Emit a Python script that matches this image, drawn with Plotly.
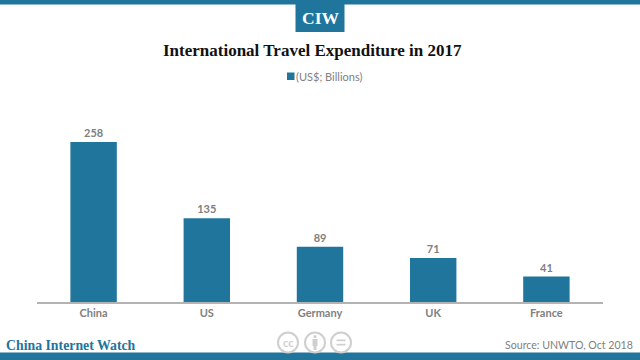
import plotly.graph_objects as go

categories = ["China", "US", "Germany", "UK", "France"]
values = [258, 135, 89, 71, 41]
series_name = "(US$; Billions)"
title = "International Travel Expenditure in 2017"
source = "Source: UNWTO, Oct 2018"
brand = "China Internet Watch"
logo = "CIW"

W, H = 640, 360
L, R, T, B = 37, 37, 116, 58
BLUE = "#20759d"
GREY = "#808080"
ICON = "#cfcfcf"
SERIF = "Liberation Serif"
SANS = "Lato"

def px(x):
    return (x - L) / (W - L - R)

def py(y):
    return (H - B - y) / (H - T - B)

fig = go.Figure(go.Bar(
    x=categories, y=values, width=0.41, name=series_name,
    marker=dict(color=BLUE, line=dict(width=0)),
    text=values, textposition="outside", cliponaxis=False,
    textfont=dict(family=SANS, size=11, color=GREY, weight="bold"),
    showlegend=False,
))

def rect(x0, y0, x1, y1, color):
    return dict(type="rect", xref="paper", yref="paper", layer="above",
                x0=px(x0), x1=px(x1), y0=py(y0), y1=py(y1),
                fillcolor=color, line=dict(width=0))

def circle(cx, cy, r, fill="white", lw=2):
    return dict(type="circle", xref="paper", yref="paper", layer="above",
                x0=px(cx - r), x1=px(cx + r), y0=py(cy - r), y1=py(cy + r),
                fillcolor=fill, line=dict(color=ICON, width=lw))

def note(text, x, y, size, color, family=SANS, anchor="center", bold=False):
    return dict(text=f"<b>{text}</b>" if bold else text, x=px(x), y=py(y),
                xref="paper", yref="paper", xanchor=anchor, yanchor="middle",
                showarrow=False, borderpad=0, borderwidth=0,
                font=dict(family=family, size=size, color=color))

shapes = [
    rect(0, 0, 640, 4.5, BLUE),
    rect(0, 352.5, 640, 360, BLUE),
    rect(295.5, 4, 344.5, 32, BLUE),
    rect(287, 72.5, 294.5, 80, BLUE),
    circle(288, 342.5, 10), circle(315, 342.5, 10), circle(341, 342.5, 10),
    circle(315, 336.5, 1.6, ICON, 0),
    rect(312.5, 339, 317.5, 346, ICON),
    rect(313.5, 346, 316.5, 350, ICON),
    rect(336.5, 339.5, 345.5, 341.2, ICON),
    rect(336.5, 343.8, 345.5, 345.5, ICON),
]
annotations = [
    note(logo, 320.5, 18, 17.5, "white", SERIF, bold=True),
    note(title, 312.5, 50, 17, "#111111", SERIF, bold=True),
    note(series_name, 296, 76.5, 11, GREY, SANS, "left"),
    note(brand, 6, 345, 13.8, BLUE, SERIF, "left", bold=True),
    note(source, 633, 344.5, 10.6, GREY, SANS, "right"),
    note("cc", 288, 342, 11, ICON, SANS, bold=True),
]

fig.update_layout(
    width=W, height=H, autosize=False,
    margin=dict(l=L, r=R, t=T, b=B, pad=0),
    paper_bgcolor="white", plot_bgcolor="white",
    shapes=shapes, annotations=annotations,
    xaxis=dict(showline=True, linecolor="#b3b3b3", linewidth=1.5, ticks="",
               showgrid=False, tickfont=dict(family=SANS, size=11, color=GREY, weight="bold")),
    yaxis=dict(range=[0, 300], visible=False, showgrid=False),
)
fig.write_html("out.html", config=dict(displayModeBar=False),
               post_script="document.body.style.margin='0';document.body.style.overflow='hidden';")
